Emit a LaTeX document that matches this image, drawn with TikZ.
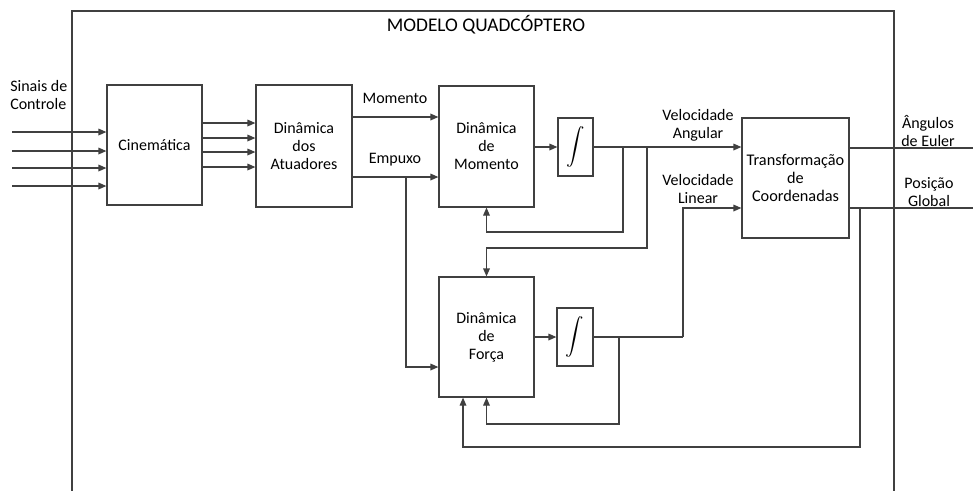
\documentclass[tikz,border=0pt]{standalone}
\usepackage{fontspec}
\setmainfont{Carlito}
\usetikzlibrary{arrows.meta,shadows}
\definecolor{ln}{HTML}{404040}
\tikzset{
  blk/.style={draw=ln, line width=0.9pt, fill=white, align=center, inner sep=1pt,
    drop shadow={shadow xshift=0.8pt, shadow yshift=-0.8pt, fill=blue!25, opacity=0.5}},
  arr/.style={draw=ln, line width=0.9pt, -{Triangle[length=6pt,width=5pt]}},
  wire/.style={draw=ln, line width=0.9pt},
  lbl/.style={align=center, inner sep=0pt},
}
\newcommand{\integ}{\scalebox{1.38}{$\displaystyle\int$}}
\begin{document}
\begin{tikzpicture}[x=0.75pt,y=-0.75pt, font=\fontsize{12}{13.5}\selectfont]
\useasboundingbox (0,0) rectangle (973,490);
% frame
\draw[line width=1.3pt, draw=ln] (72,492) -- (72,11) -- (894,11) -- (894,492);
\node[lbl, font=\fontsize{14.5}{16}\selectfont] (title) at (486,25) {MODELO QUADCÓPTERO};
% blocks
\node[blk, minimum width=71.25pt, minimum height=90pt] (Cin) at (154.5,145) {Cinemática};
\node[blk, minimum width=72pt, minimum height=91.5pt] (Atu) at (304,146) {Dinâmica\\dos\\Atuadores};
\node[blk, minimum width=71.25pt, minimum height=90.75pt] (Mom) at (486.5,146.5) {Dinâmica\\de\\Momento};
\node[blk, minimum width=26.25pt, minimum height=43.5pt] (Int1) at (575.5,147) {\integ};
\node[blk, minimum width=80.25pt, minimum height=90pt, font=\fontsize{12.2}{13.5}\selectfont] (Tra) at (795.5,178) {Transformação\\de\\Coordenadas};
\node[blk, minimum width=71.25pt, minimum height=90pt] (For) at (486.5,337) {Dinâmica\\de\\Força};
\node[blk, minimum width=27pt, minimum height=43.5pt] (Int2) at (575,337) {\integ};
% labels
\node[lbl, align=left, anchor=west] (sin) at (10,95) {Sinais de\\Controle};
\node[lbl] (lmom) at (395,98) {Momento};
\node[lbl] (lemp) at (395,160) {Empuxo};
\node[lbl] (lva) at (698,125) {Velocidade\\Angular};
\node[lbl] (lvl) at (698,189) {Velocidade\\Linear};
\node[lbl] (leu) at (928,131) {Ângulos\\de Euler};
\node[lbl] (lpg) at (929,192) {Posição\\Global};
% coordinates
\coordinate (in1) at (12,132);
\coordinate (in2) at (12,151);
\coordinate (in3) at (12,168);
\coordinate (in4) at (12,186);
\coordinate (o1) at (973,148);
\coordinate (o2) at (973,208);
\coordinate (em) at (406,177);
\coordinate (fb1) at (623,147);
\coordinate (fb2) at (647,147);
\coordinate (vl) at (683,337);
\coordinate (fb3) at (619,337);
\coordinate (fb4) at (860,208);
% inputs
\foreach \c in {in1,in2,in3,in4} \draw[arr] (\c) -- (\c -| Cin.west);
% Cin -> Atu
\foreach \yy in {123,138,152,167} \draw[arr] (Cin.east |- 0,\yy) -- (Atu.west |- 0,\yy);
% Atu -> Mom
\draw[arr] (Atu.east |- 0,117) -- (Mom.west |- 0,117);
\draw[arr] (Atu.east |- em) -- (Mom.west |- em);
\draw[arr] (em) -- (em |- 0,367) -- (For.west |- 0,367);
% Mom -> Int1 -> Tra
\draw[arr] (Mom.east |- Int1) -- (Int1.west);
\draw[arr] (Int1.east) -- (Tra.west |- Int1.east);
\draw[arr] (fb1) -- (fb1 |- 0,232) -- (Mom.south |- 0,232) -- (Mom.south);
\draw[arr] (fb2) -- (fb2 |- 0,248) -- (For.north |- 0,248) -- (For.north);
% For -> Int2 -> Tra
\draw[arr] (For.east |- Int2) -- (Int2.west);
\draw[wire] (Int2.east) -- (vl);
\draw[arr] (vl) -- (vl |- o2) -- (Tra.west |- o2);
\draw[arr] (fb3) -- (fb3 |- 0,424) -- (For.south |- 0,424) -- (For.south);
% outputs
\draw[wire] (Tra.east |- o1) -- (o1);
\draw[wire] (Tra.east |- o2) -- (o2);
\draw[arr] (fb4) -- (fb4 |- 0,447) -- (463,447) -- (For.south -| 463,0);
\end{tikzpicture}
\end{document}
